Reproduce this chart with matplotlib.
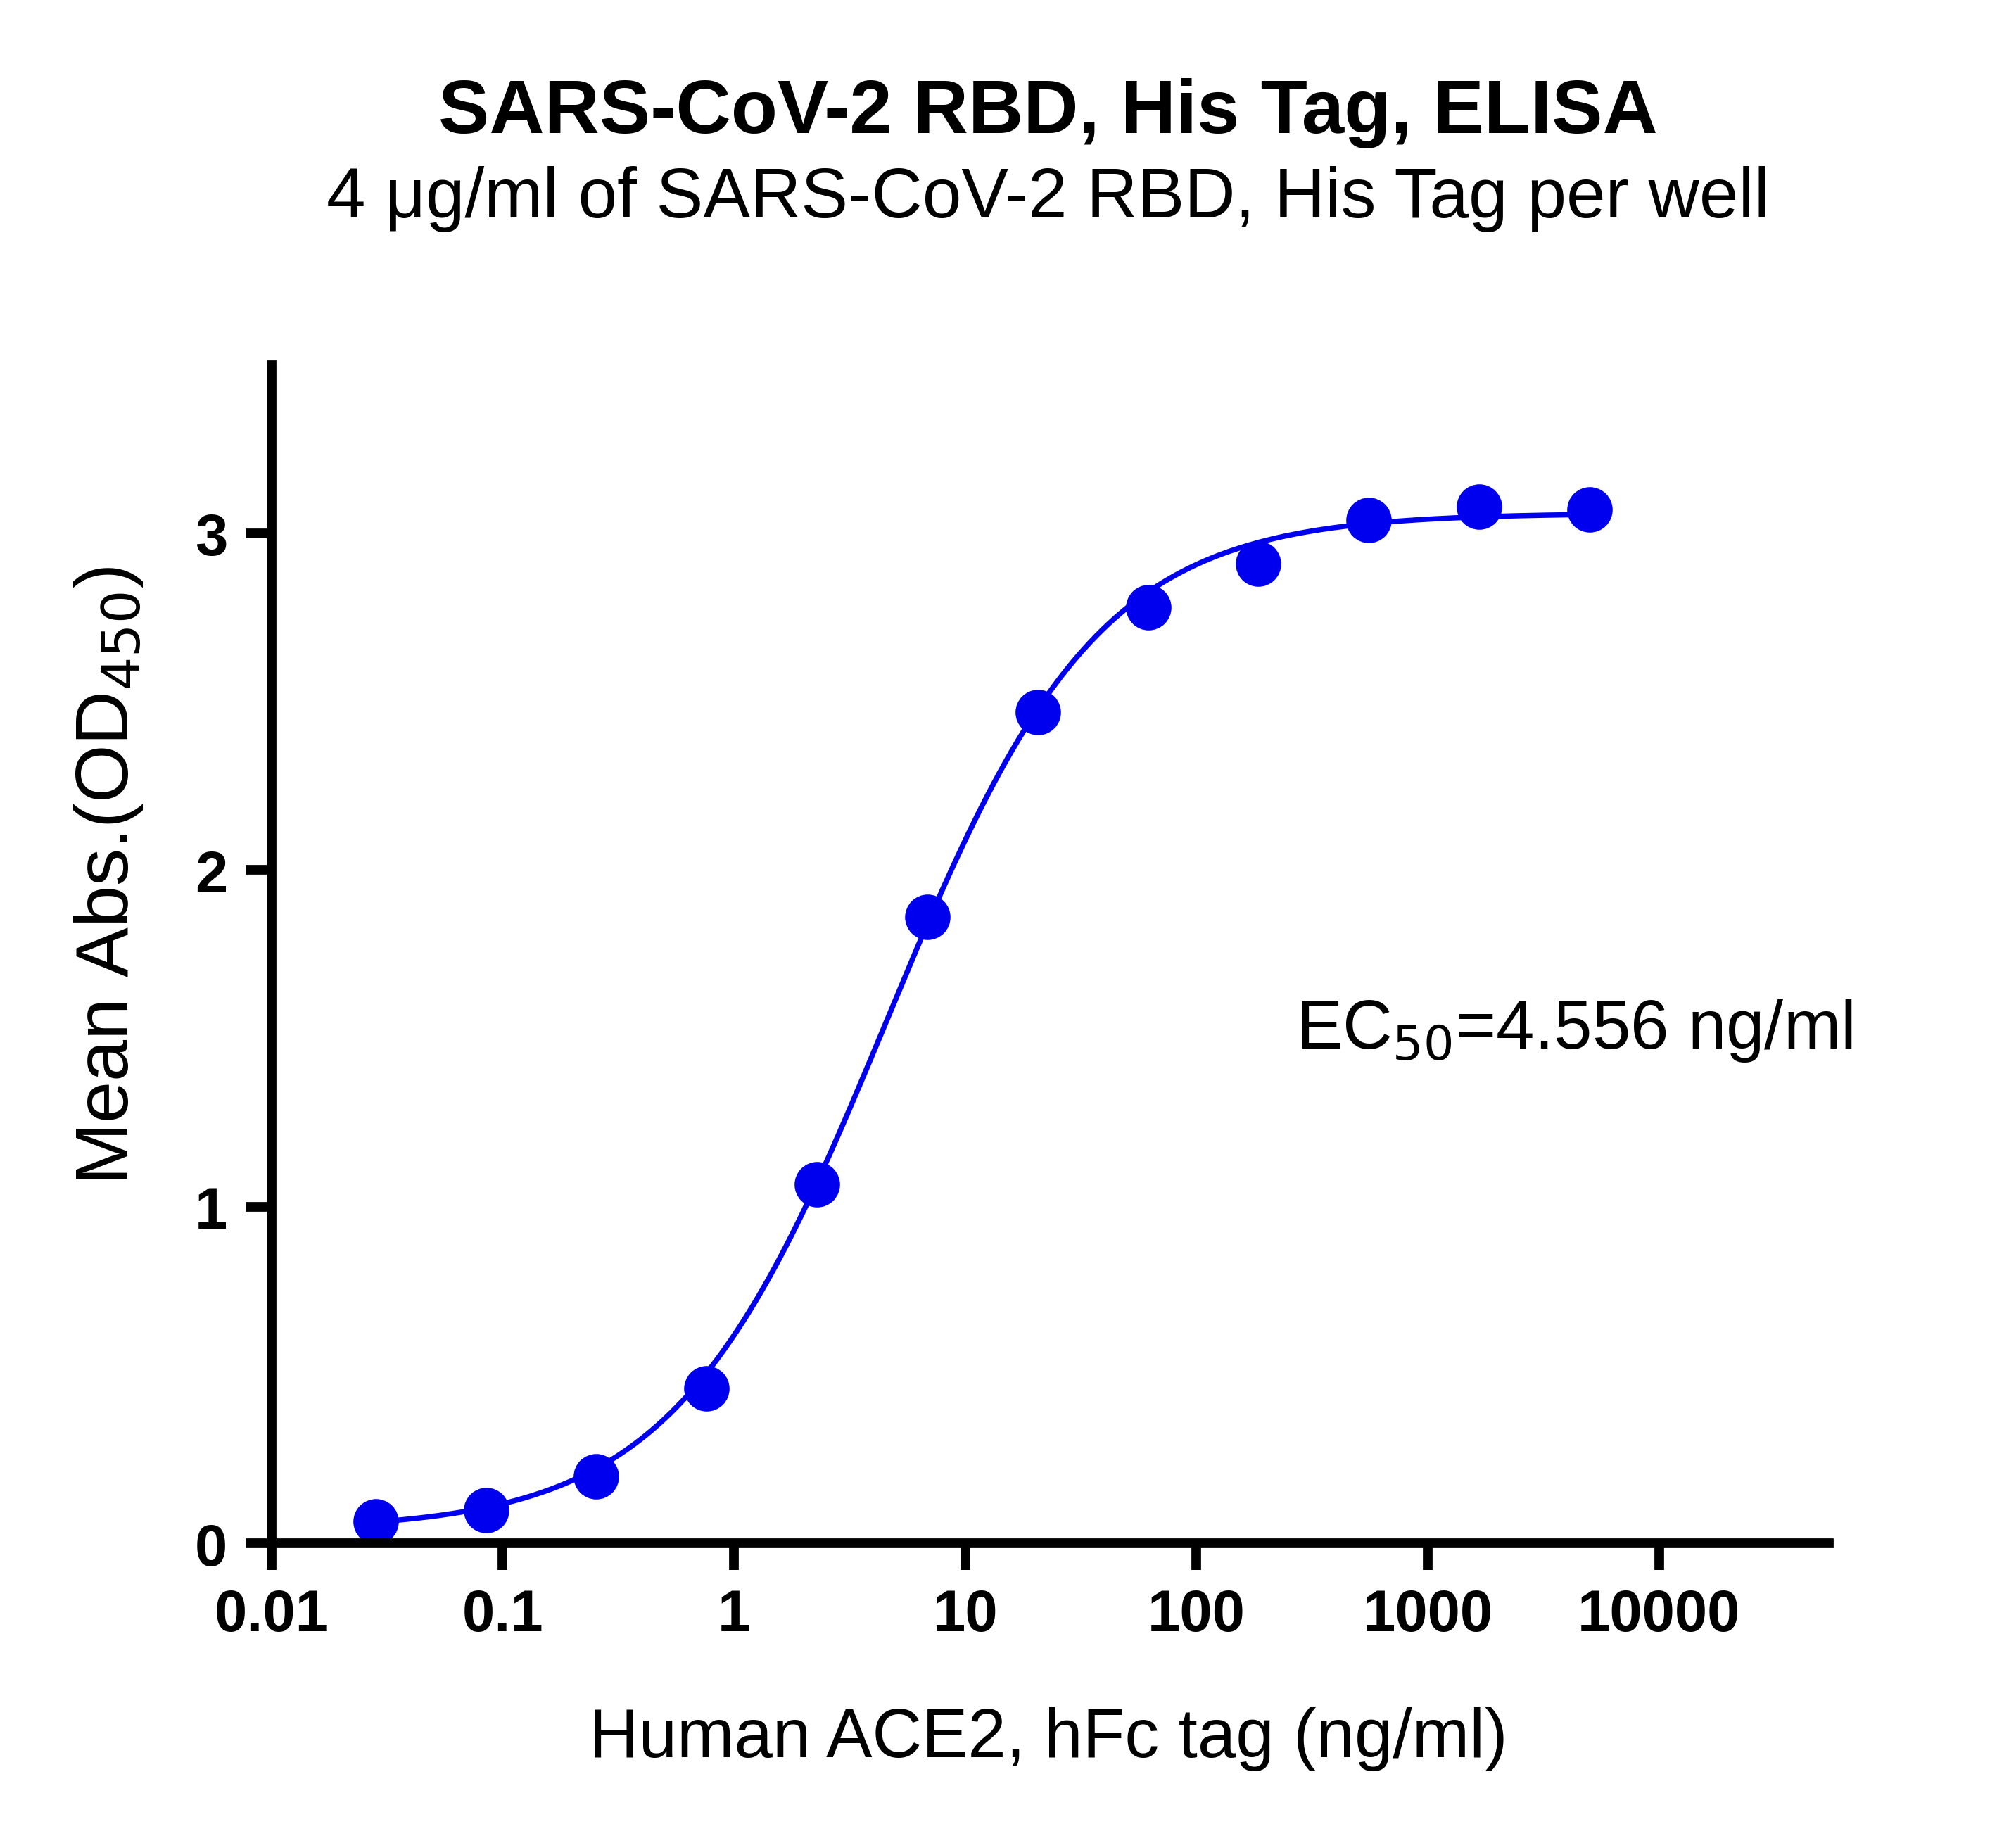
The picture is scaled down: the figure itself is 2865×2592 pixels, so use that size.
import numpy as np
import matplotlib
matplotlib.use("Agg")
import matplotlib.pyplot as plt

plt.rcParams["font.family"] = "Liberation Sans"

conc = [5000/3**k for k in range(11, -1, -1)]
absorb = [0.066, 0.10, 0.20, 0.46, 1.066, 1.86, 2.47, 2.78, 2.91, 3.04, 3.08, 3.07]
x_ticks = [0.01, 0.1, 1, 10, 100, 1000, 10000]
x_ticklabels = ["0.01", "0.1", "1", "10", "100", "1000", "10000"]
y_ticks = [0, 1, 2, 3]
bottom, top, ec50, hill = 0.04, 3.06, 4.556, 0.95

fig = plt.figure(figsize=(9.55, 8.643), dpi=300)
ax = fig.add_axes([0.1346, 0.1537, 0.907 - 0.1346, 0.7996 - 0.1537])
xs = np.logspace(np.log10(conc[0]), np.log10(conc[-1]), 400)
ys = bottom + (top - bottom) / (1 + (ec50 / xs) ** hill)
ax.plot(xs, ys, color="#0000EE", lw=1.8)
ax.plot(conc, absorb, "o", color="#0000EE", ms=15.5, mec="none")
ax.set_xscale("log")
ax.set_xlim(0.01, 5.4e4)
ax.set_ylim(0, 3.5)
ax.set_xticks(x_ticks)
ax.set_xticklabels(x_ticklabels)
ax.minorticks_off()
ax.set_yticks(y_ticks)
for s in ["top", "right"]:
    ax.spines[s].set_visible(False)
for s in ["left", "bottom"]:
    ax.spines[s].set_linewidth(3.3)
ax.tick_params(width=3.3, length=9, labelsize=20, direction="out", pad=6)
for t in ax.get_xticklabels() + ax.get_yticklabels():
    t.set_fontweight("bold")
fig.text(0.52, 0.938, "SARS-CoV-2 RBD, His Tag, ELISA", ha="center", va="center", fontsize=26, fontweight="bold")
fig.text(0.52, 0.891, "4 μg/ml of SARS-CoV-2 RBD, His Tag per well", ha="center", va="center", fontsize=24)
fig.text(0.52, 0.047, "Human ACE2, hFc tag (ng/ml)", ha="center", va="center", fontsize=23.5)
fig.text(0.054, 0.52, "Mean Abs.(OD$_{450}$)", ha="center", va="center", rotation=90, fontsize=25.5)
fig.text(0.643, 0.435, "EC$_{50}$=4.556 ng/ml", ha="left", va="center", fontsize=23.5)
fig.savefig("out.png", dpi=300)
